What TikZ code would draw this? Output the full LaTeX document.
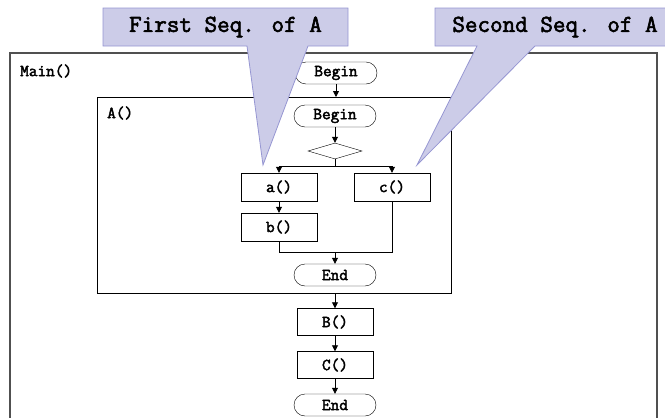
\documentclass[tikz,border=0pt]{standalone}
\usepackage{fontspec}
\newfontfamily\courbold[FakeBold=2.5]{Latin Modern Mono}
\usetikzlibrary{arrows.meta,shapes.geometric}
\definecolor{callfill}{RGB}{204,204,232}
\definecolor{calledge}{RGB}{150,150,210}
\definecolor{framegray}{RGB}{80,80,80}

\begin{document}
\begin{tikzpicture}[x=1pt,y=-1pt,
  lbl/.style={font=\courbold\fontsize{16.8}{18}\selectfont},
  term/.style={draw,rounded corners=11pt,minimum width=82pt,minimum height=22pt,inner sep=0pt,lbl},
  proc/.style={draw,minimum width=76pt,minimum height=28pt,inner sep=0pt,lbl},
  dec/.style={draw,diamond,minimum width=54pt,minimum height=16pt,inner sep=0pt},
  flow/.style={-{Triangle[length=6pt,width=6pt]},line width=0.8pt},
  wire/.style={line width=0.8pt},
  calltext/.style={font=\courbold\fontsize{24.4}{26}\selectfont},
  callshape/.style={fill=callfill,draw=calledge,line width=0.8pt,line join=miter},
]
\useasboundingbox (0,0) rectangle (665,418);
\clip (0,0) rectangle (665,418);

% outer frame of Main()
\draw[framegray,line width=1.5pt] (10,53) rectangle (657,440);
\node[lbl,anchor=west,inner sep=0pt] (mainlbl) at (20,71) {Main()};

% frame of A()
\node[draw,line width=0.8pt,anchor=north west,minimum width=354pt,minimum height=196pt,inner sep=0pt] (Abox) at (97,97) {};
\node[lbl,anchor=west,inner sep=0pt] (albl) at (107,113) {A()};

% flow nodes
\node[term] (mb) at (336,73) {Begin};
\node[term] (ab) at (335,116) {Begin};
\node[dec] (d) at (335,151) {};
\node[proc] (a) at (279,187) {a()};
\node[proc] (c) at (392,187) {c()};
\node[proc] (b) at (279,227) {b()};
\node[term] (ae) at (335,275) {End};
\node[proc,minimum height=27pt] (pB) at (335,322) {B()};
\node[proc,minimum height=27pt] (pC) at (335,365) {C()};
\node[term] (me) at (335,405) {End};

\coordinate (split) at (335,166);
\coordinate (join) at (335,252);

% connectors
\draw[flow] (mb.south) -- (mb.south |- Abox.north);
\draw[flow] (ab.south) -- (d.north);
\draw[wire] (d.south) -- (split);
\draw[flow] (split) -| (a.north);
\draw[flow] (split) -| (c.north);
\draw[flow] (a.south) -- (b.north);
\draw[wire] (b.south) |- (join);
\draw[wire] (c.south) |- (join);
\draw[flow] (join) -- (ae.north);
\draw[flow] (Abox.south -| pB.north) -- (pB.north);
\draw[flow] (pB.south) -- (pC.north);
\draw[flow] (pC.south) -- (me.north);

% callouts
\draw[callshape] (103,8) -- (348,8) -- (348,46) -- (308,46) -- (263,165) -- (247,46) -- (103,46) -- cycle;
\node[calltext] (s1) at (225.5,27) {First Seq. of A};
\draw[callshape] (435,8) -- (675,8) -- (675,46) -- (535,46) -- (417,165) -- (477,46) -- (435,46) -- cycle;
\node[calltext] (s2) at (555,27) {Second Seq. of A};
\end{tikzpicture}
\end{document}
